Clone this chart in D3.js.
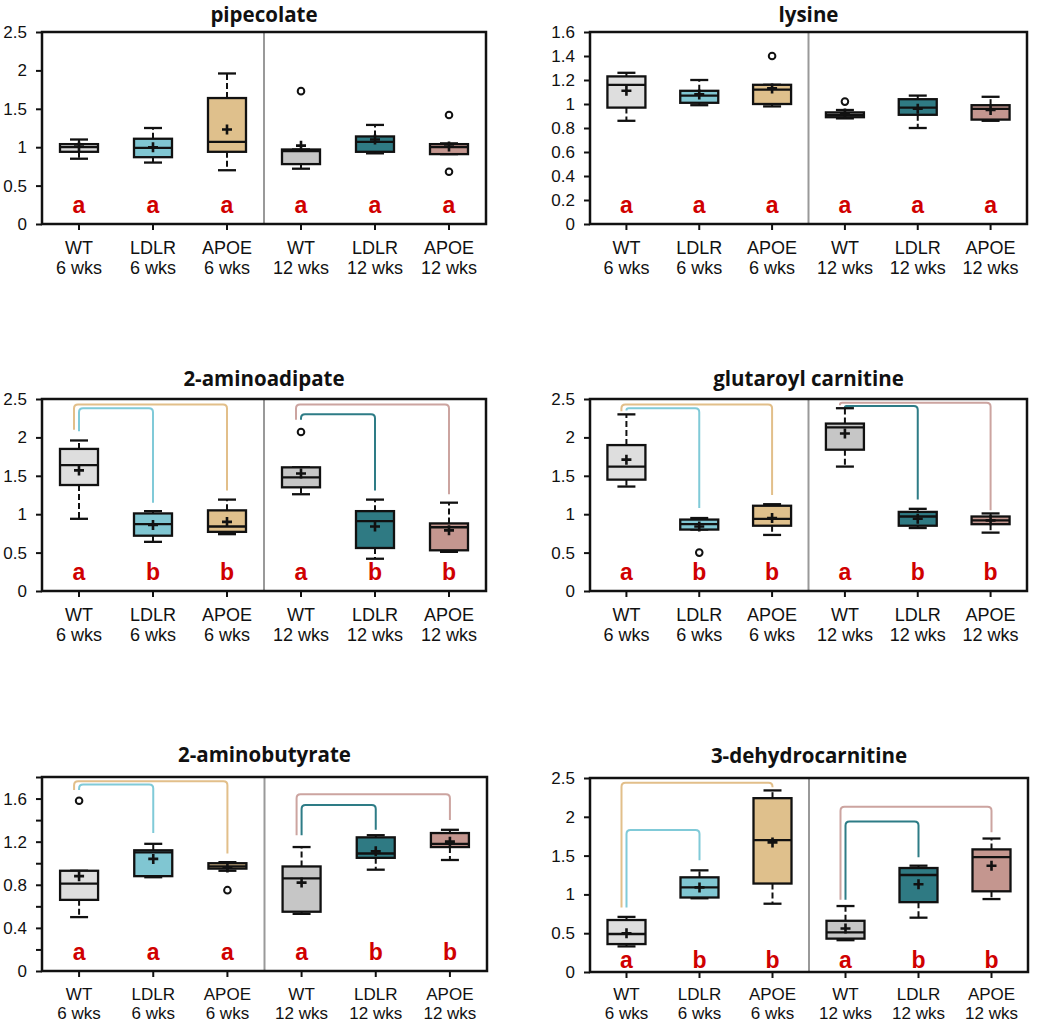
<!DOCTYPE html>
<html>
<head>
<meta charset="utf-8">
<script src="https://cdn.jsdelivr.net/npm/d3@7"></script>
<style>
  html, body { margin: 0; padding: 0; background: #fff; }
  svg { display: block; }
</style>
</head>
<body>
<svg id="chart" width="1050" height="1023"></svg>
<script>
// ---------- categories ----------
const genotypes = ["WT", "LDLR", "APOE", "WT", "LDLR", "APOE"];
const ages = ["6 wks", "6 wks", "6 wks", "12 wks", "12 wks", "12 wks"];
const boxFills = ["#dedede", "#80c6d2", "#dfc08c", "#c6c6c6", "#2f7a83", "#c4968f"];
const bracketColors = ["#000", "#80cad8", "#e2bf8a", "#000", "#2e7c86", "#cca4a0"];

// ---------- values: [whiskerLow, q1, median, q3, whiskerHigh, mean] ----------
const pipecolateStats = [
  [0.85, 0.94, 1.00, 1.04, 1.10, 1.01],
  [0.80, 0.87, 0.99, 1.11, 1.25, 1.00],
  [0.70, 0.94, 1.07, 1.64, 1.96, 1.23],
  [0.72, 0.78, 0.95, 0.97, 0.97, 1.02],
  [0.92, 0.94, 1.07, 1.14, 1.29, 1.10],
  [0.91, 0.91, 1.00, 1.04, 1.05, 1.01]
];
const pipecolateOutliers = [[], [], [], [1.73], [], [1.42, 0.68]];
const pipecolateLetters = ["a", "a", "a", "a", "a", "a"];
const pipecolateBrackets = [];

const lysineStats = [
  [0.86, 0.97, 1.16, 1.23, 1.26, 1.11],
  [0.99, 1.01, 1.07, 1.11, 1.20, 1.08],
  [0.98, 1.00, 1.12, 1.16, 1.16, 1.13],
  [0.88, 0.89, 0.91, 0.93, 0.95, 0.92],
  [0.80, 0.91, 0.97, 1.04, 1.07, 0.96],
  [0.86, 0.87, 0.96, 0.99, 1.06, 0.95]
];
const lysineOutliers = [[], [], [1.40], [1.02], [], []];
const lysineLetters = ["a", "a", "a", "a", "a", "a"];
const lysineBrackets = [];

const aminoadipateStats = [
  [0.94, 1.38, 1.64, 1.85, 1.96, 1.57],
  [0.64, 0.72, 0.87, 1.01, 1.04, 0.86],
  [0.74, 0.77, 0.84, 1.05, 1.19, 0.90],
  [1.26, 1.35, 1.48, 1.61, 1.61, 1.53],
  [0.42, 0.56, 0.91, 1.04, 1.19, 0.84],
  [0.51, 0.53, 0.83, 0.88, 1.15, 0.79]
];
const aminoadipateOutliers = [[], [], [], [2.07], [], []];
const aminoadipateLetters = ["a", "b", "b", "a", "b", "b"];
// [from, to, barLevel, fromLegEnd, toLegEnd]
const aminoadipateBrackets = [
  [0, 2, 2.43, 2.10, 1.31],
  [0, 1, 2.38, 2.08, 1.15],
  [3, 5, 2.43, 2.23, 1.26],
  [3, 4, 2.30, 2.23, 1.31]
];

const glutaroylStats = [
  [1.36, 1.45, 1.62, 1.90, 2.30, 1.71],
  [0.80, 0.80, 0.87, 0.93, 0.95, 0.84],
  [0.73, 0.85, 0.94, 1.11, 1.13, 0.95],
  [1.62, 1.84, 2.13, 2.18, 2.38, 2.05],
  [0.82, 0.85, 0.97, 1.03, 1.07, 0.94],
  [0.76, 0.87, 0.92, 0.97, 1.01, 0.92]
];
const glutaroylOutliers = [[], [0.50], [], [], [], []];
const glutaroylLetters = ["a", "b", "b", "a", "b", "b"];
const glutaroylBrackets = [
  [0, 2, 2.43, 2.34, 1.25],
  [0, 1, 2.38, 2.35, 1.08],
  [3, 5, 2.45, 2.42, 1.05],
  [3, 4, 2.41, 2.39, 1.19]
];

const aminobutyrateStats = [
  [0.50, 0.66, 0.81, 0.93, 0.93, 0.88],
  [0.87, 0.88, 1.10, 1.12, 1.18, 1.04],
  [0.93, 0.95, 0.97, 1.00, 1.01, 0.96],
  [0.53, 0.55, 0.86, 0.97, 1.15, 0.82],
  [0.94, 1.05, 1.09, 1.24, 1.26, 1.11],
  [1.03, 1.15, 1.18, 1.28, 1.31, 1.20]
];
const aminobutyrateOutliers = [[1.58], [], [0.75], [], [], []];
const aminobutyrateLetters = ["a", "a", "a", "a", "b", "b"];
const aminobutyrateBrackets = [
  [0, 2, 1.76, 1.68, 1.09],
  [0, 1, 1.73, 1.68, 1.28],
  [3, 5, 1.64, 1.26, 1.40],
  [3, 4, 1.54, 1.26, 1.31]
];

const dehydrocarnitineStats = [
  [0.33, 0.36, 0.49, 0.67, 0.71, 0.50],
  [0.95, 0.96, 1.09, 1.22, 1.31, 1.09],
  [0.88, 1.14, 1.70, 2.24, 2.34, 1.67],
  [0.41, 0.43, 0.51, 0.66, 0.85, 0.56],
  [0.70, 0.90, 1.25, 1.34, 1.37, 1.13],
  [0.94, 1.04, 1.48, 1.58, 1.72, 1.37]
];
const dehydrocarnitineOutliers = [[], [], [], [], [], []];
const dehydrocarnitineLetters = ["a", "b", "b", "a", "b", "b"];
const dehydrocarnitineBrackets = [
  [0, 2, 2.44, 0.83, 2.38],
  [0, 1, 1.83, 0.83, 1.44],
  [3, 5, 2.13, 0.93, 1.80],
  [3, 4, 1.94, 0.93, 1.48]
];

// y axis: [max, tick step, label step]
const pipecolateAxis = [2.5, 0.5, 0.5];
const lysineAxis = [1.6, 0.2, 0.2];
const aminoadipateAxis = [2.5, 0.5, 0.5];
const glutaroylAxis = [2.5, 0.5, 0.5];
const aminobutyrateAxis = [1.8, 0.2, 0.4];
const dehydrocarnitineAxis = [2.5, 0.5, 0.5];

// ---------- panels (layout) ----------
const panels = [
  { title: "pipecolate", stats: pipecolateStats, outliers: pipecolateOutliers, letters: pipecolateLetters, brackets: pipecolateBrackets, axis: pipecolateAxis,
    x0: 42, x1: 486, y0: 32, y1: 224, titleY: 22, letterOff: 11, lab1: 30, lab2: 50, labFs: 18 },
  { title: "lysine", stats: lysineStats, outliers: lysineOutliers, letters: lysineLetters, brackets: lysineBrackets, axis: lysineAxis,
    x0: 590, x1: 1027, y0: 32, y1: 224, titleY: 22, letterOff: 11, lab1: 30, lab2: 50, labFs: 18 },
  { title: "2-aminoadipate", stats: aminoadipateStats, outliers: aminoadipateOutliers, letters: aminoadipateLetters, brackets: aminoadipateBrackets, axis: aminoadipateAxis,
    x0: 42, x1: 486, y0: 399, y1: 591, titleY: 386, letterOff: 11, lab1: 30, lab2: 50, labFs: 18 },
  { title: "glutaroyl carnitine", stats: glutaroylStats, outliers: glutaroylOutliers, letters: glutaroylLetters, brackets: glutaroylBrackets, axis: glutaroylAxis,
    x0: 590, x1: 1027, y0: 399, y1: 591, titleY: 386, letterOff: 11, lab1: 30, lab2: 50, labFs: 18 },
  { title: "2-aminobutyrate", stats: aminobutyrateStats, outliers: aminobutyrateOutliers, letters: aminobutyrateLetters, brackets: aminobutyrateBrackets, axis: aminobutyrateAxis,
    x0: 42, x1: 487, y0: 777, y1: 971, titleY: 762, letterOff: 11, lab1: 29, lab2: 48, labFs: 17 },
  { title: "3-dehydrocarnitine", stats: dehydrocarnitineStats, outliers: dehydrocarnitineOutliers, letters: dehydrocarnitineLetters, brackets: dehydrocarnitineBrackets, axis: dehydrocarnitineAxis,
    x0: 590, x1: 1028, y0: 778, y1: 972, titleY: 763, letterOff: 4, lab1: 28, lab2: 47, labFs: 17 }
];

const svg = d3.select("#chart");
const BOXW = 38, CAPW = 18;

panels.forEach(p => {
  const g = svg.append("g");
  const x = d3.scaleBand().domain(d3.range(6)).range([p.x0, p.x1]).padding(0);
  const cx = i => x(i) + x.bandwidth() / 2;
  const [ymax, step, labStep] = p.axis;
  const y = d3.scaleLinear().domain([0, ymax]).range([p.y1, p.y0]);
  const nT = Math.round(ymax / step);
  const ticks = d3.range(nT + 1).map(i => +(i * step).toFixed(2));

  // title
  g.append("text").attr("x", (p.x0 + p.x1) / 2).attr("y", p.titleY)
    .attr("text-anchor", "middle")
    .style("font-family", "'Open Sans', 'Noto Sans', sans-serif")
    .style("font-weight", 700).style("font-size", "20.5px").attr("fill", "#111")
    .text(p.title);

  // y axis
  const yAxis = d3.axisLeft(y).tickValues(ticks).tickSize(6).tickPadding(9)
    .tickFormat(v => (Math.abs(v / labStep - Math.round(v / labStep)) < 1e-6 ? String(v) : ""));
  const ya = g.append("g").attr("transform", `translate(${p.x0},0)`).call(yAxis);
  ya.select(".domain").remove();
  ya.selectAll(".tick line").attr("stroke", "#111").attr("stroke-width", 2);
  ya.selectAll(".tick text").attr("fill", "#111")
    .style("font-family", "'Liberation Sans', Arial, sans-serif").style("font-size", "17px");

  // x axis ticks
  const xAxis = d3.axisBottom(x).tickSize(6).tickFormat("");
  const xa = g.append("g").attr("transform", `translate(0,${p.y1})`).call(xAxis);
  xa.select(".domain").remove();
  xa.selectAll(".tick line").attr("stroke", "#111").attr("stroke-width", 2);
  xa.selectAll(".tick").attr("transform", d => `translate(${cx(d)},0)`);

  // x labels
  d3.range(6).forEach(i => {
    g.append("text").attr("x", cx(i)).attr("y", p.y1 + p.lab1).attr("text-anchor", "middle")
      .style("font-family", "'Liberation Sans', Arial, sans-serif").style("font-size", p.labFs + "px")
      .attr("fill", "#111").text(genotypes[i]);
    g.append("text").attr("x", cx(i)).attr("y", p.y1 + p.lab2).attr("text-anchor", "middle")
      .style("font-family", "'Liberation Sans', Arial, sans-serif").style("font-size", p.labFs + "px")
      .attr("fill", "#111").text(ages[i]);
  });

  // divider
  g.append("line").attr("x1", (p.x0 + p.x1) / 2).attr("x2", (p.x0 + p.x1) / 2)
    .attr("y1", p.y0).attr("y2", p.y1).attr("stroke", "#999").attr("stroke-width", 2);

  // brackets
  p.brackets.forEach(b => {
    const [from, to, lvl, e0, e1] = b;
    const outer = (to - from) === 2;
    const xa0 = cx(from) + (outer ? -5 : 0);
    const xa1 = cx(to);
    const yb = y(lvl), ya0 = y(e0), ya1 = y(e1);
    const r0 = Math.min(4, Math.abs(ya0 - yb)), r1 = Math.min(4, Math.abs(ya1 - yb));
    const path = `M${xa0},${ya0} V${yb + r0} Q${xa0},${yb} ${xa0 + r0},${yb} H${xa1 - r1} Q${xa1},${yb} ${xa1},${yb + r1} V${ya1}`;
    g.append("path").attr("d", path).attr("fill", "none")
      .attr("stroke", bracketColors[to]).attr("stroke-width", 2);
  });

  // boxes
  p.stats.forEach((s, i) => {
    const [wl, q1, med, q3, wh, mean] = s;
    const c = cx(i);
    const bg = g.append("g");
    bg.append("line").attr("x1", c).attr("x2", c).attr("y1", y(q3)).attr("y2", y(wh))
      .attr("stroke", "#111").attr("stroke-width", 2).attr("stroke-dasharray", "6,3");
    bg.append("line").attr("x1", c).attr("x2", c).attr("y1", y(q1)).attr("y2", y(wl))
      .attr("stroke", "#111").attr("stroke-width", 2).attr("stroke-dasharray", "6,3");
    [wl, wh].forEach(v => bg.append("line").attr("x1", c - CAPW / 2).attr("x2", c + CAPW / 2)
      .attr("y1", y(v)).attr("y2", y(v)).attr("stroke", "#111").attr("stroke-width", 2.3));
    bg.append("rect").attr("x", c - BOXW / 2).attr("width", BOXW)
      .attr("y", y(q3)).attr("height", Math.max(0.5, y(q1) - y(q3)))
      .attr("fill", boxFills[i]).attr("stroke", "#111").attr("stroke-width", 2.3);
    bg.append("line").attr("x1", c - BOXW / 2).attr("x2", c + BOXW / 2)
      .attr("y1", y(med)).attr("y2", y(med)).attr("stroke", "#111").attr("stroke-width", 2.3);
    const my = y(mean);
    bg.append("path").attr("d", `M${c - 5},${my} H${c + 5} M${c},${my - 5} V${my + 5}`)
      .attr("stroke", "#111").attr("stroke-width", 2.6).attr("fill", "none");
    p.outliers[i].forEach(o => bg.append("circle").attr("cx", c).attr("cy", y(o)).attr("r", 3.3)
      .attr("fill", "#fff").attr("stroke", "#111").attr("stroke-width", 2));
  });

  // letters
  p.letters.forEach((l, i) => {
    g.append("text").attr("x", cx(i)).attr("y", p.y1 - p.letterOff).attr("text-anchor", "middle")
      .style("font-family", "'Liberation Sans', Arial, sans-serif").style("font-weight", 700)
      .style("font-size", "23px").attr("fill", "#d00000").text(l);
  });

  // frame
  g.append("rect").attr("x", p.x0).attr("y", p.y0).attr("width", p.x1 - p.x0).attr("height", p.y1 - p.y0)
    .attr("fill", "none").attr("stroke", "#111").attr("stroke-width", 2.5);
});
</script>
</body>
</html>
